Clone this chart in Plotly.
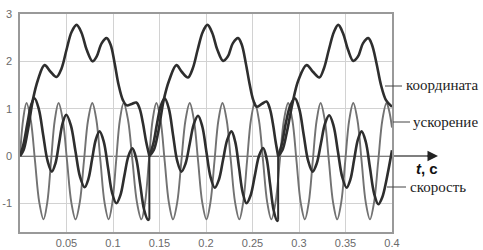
import plotly.graph_objects as go

# ---------------- data ----------------
x_ticks = [0.05, 0.1, 0.15, 0.2, 0.25, 0.3, 0.35, 0.4]
x_tick_text = ["0.05", "0.1", "0.15", "0.2", "0.25", "0.3", "0.35", "0.4"]
y_ticks = [-1, 0, 1, 2, 3]
y_tick_text = ["-1", "0", "1", "2", "3"]

# ускорение (acceleration)
acc_t = [0, 0.00345, 0.0070,
         0.01157, 0.01615, 0.02073, 0.02530,
         0.02934, 0.03338, 0.03742, 0.04145,
         0.04603, 0.05060, 0.05518, 0.05976,
         0.06428, 0.06875, 0.07322, 0.07774,
         0.08215, 0.08651, 0.09087, 0.09529,
         0.09933, 0.10336, 0.10740, 0.11144,
         0.11618, 0.12097, 0.12576, 0.13050,
         0.13453, 0.13857, 0.14261, 0.14665,
         0.15112, 0.15558, 0.16005, 0.16452,
         0.16904, 0.17351, 0.17798, 0.18250,
         0.18702, 0.19149, 0.19596, 0.20048,
         0.20479, 0.20910, 0.21340, 0.21771,
         0.22223, 0.22675, 0.23128, 0.23580,
         0.24000, 0.24414, 0.24829, 0.25249,
         0.25690, 0.26137, 0.26584, 0.27025,
         0.27477, 0.27930, 0.28382, 0.28834,
         0.29286, 0.29733, 0.30180, 0.30632,
         0.31052, 0.31477, 0.31903, 0.32323,
         0.32770, 0.33216, 0.33663, 0.34110,
         0.34541, 0.34971, 0.35402, 0.35833,
         0.36285, 0.36732, 0.37179, 0.37631,
         0.38072, 0.38519, 0.38966, 0.39407,
         0.39698, 0.40000]
acc_v = [0, 0.78, 1.12,
         0.76, -0.11, -0.98, -1.34,
         -0.98, -0.11, 0.76, 1.12,
         0.76, -0.11, -0.98, -1.34,
         -0.98, -0.11, 0.76, 1.12,
         0.76, -0.11, -0.98, -1.34,
         -0.98, -0.11, 0.76, 1.12,
         0.76, -0.11, -0.98, -1.34,
         -0.98, -0.11, 0.76, 1.12,
         0.76, -0.11, -0.98, -1.34,
         -0.98, -0.11, 0.76, 1.12,
         0.76, -0.11, -0.98, -1.34,
         -0.98, -0.11, 0.76, 1.12,
         0.76, -0.11, -0.98, -1.34,
         -0.98, -0.11, 0.76, 1.12,
         0.76, -0.11, -0.98, -1.34,
         -0.98, -0.11, 0.76, 1.12,
         0.76, -0.11, -0.98, -1.34,
         -0.98, -0.11, 0.76, 1.12,
         0.76, -0.11, -0.98, -1.34,
         -0.98, -0.11, 0.76, 1.12,
         0.76, -0.11, -0.98, -1.34,
         -0.98, -0.11, 0.76, 1.12,
         0.95, 0.6]

# скорость (velocity), three cycles
vel_t1 = [0, 0.00377, 0.00808, 0.01184, 0.01561, 0.02024, 0.02493, 0.02961, 0.03424,
          0.03812, 0.04199, 0.04587, 0.04974, 0.05470, 0.05960, 0.06449, 0.06945,
          0.07348, 0.07752, 0.08156, 0.08560, 0.09012, 0.09459, 0.09906, 0.10358,
          0.10789, 0.11219, 0.11650, 0.12081, 0.12500, 0.12920, 0.13340, 0.13760, 0.13911]
vel_v1 = [0, 0.25, 0.7, 1.07, 1.22, 0.99, 0.445, -0.10, -0.33,
          -0.155, 0.27, 0.695, 0.87, 0.647, 0.105, -0.437, -0.66,
          -0.488, -0.07, 0.348, 0.52, 0.298, -0.24, -0.778, -1.0,
          -0.831, -0.42, -0.009, 0.16, -0.06, -0.595, -1.13, -1.35, -1.33]
vel_t2 = [0.13911, 0.14320, 0.14751, 0.15149, 0.15558, 0.16011, 0.16457, 0.16904, 0.17356,
          0.17803, 0.18250, 0.18697, 0.19144, 0.19596, 0.20043, 0.20490, 0.20942,
          0.21394, 0.21841, 0.22288, 0.22740, 0.23144, 0.23548, 0.23951, 0.24355,
          0.24802, 0.25249, 0.25696, 0.26142, 0.26519, 0.26896, 0.27273, 0.27650, 0.27757]
vel_v2 = [0, 0.25, 0.7, 1.07, 1.22, 0.994, 0.445, -0.104, -0.33,
          -0.158, 0.26, 0.678, 0.85, 0.628, 0.09, -0.448, -0.67,
          -0.496, -0.075, 0.346, 0.52, 0.298, -0.24, -0.778, -1.0,
          -0.829, -0.415, -0.001, 0.17, -0.055, -0.6, -1.145, -1.37, -1.35]
vel_t3 = [0.27757, 0.28156, 0.28587, 0.29071, 0.29555, 0.30029, 0.30508, 0.30987, 0.31461,
          0.31908, 0.32355, 0.32802, 0.33249, 0.33717, 0.34185, 0.34653, 0.35122,
          0.35526, 0.35930, 0.36333, 0.36737, 0.37184, 0.37631, 0.38078, 0.38524,
          0.38955, 0.39407, 0.40000]
vel_v3 = [0, 0.25, 0.7, 1.07, 1.22, 0.994, 0.445, -0.104, -0.33,
          -0.156, 0.265, 0.686, 0.86, 0.637, 0.095, -0.447, -0.67,
          -0.496, -0.075, 0.346, 0.52, 0.295, -0.25, -0.795, -1.02,
          -0.87, -0.5, 0.12]

# координата (coordinate), three cycles
crd_t1 = [0, 0.00377, 0.00808, 0.01378, 0.01917, 0.02638, 0.03284, 0.03930, 0.04468, 0.05007,
          0.05545, 0.06083, 0.06622, 0.07160, 0.07806, 0.08237, 0.08775, 0.09313, 0.09744,
          0.10175, 0.10605, 0.11068, 0.11467, 0.12005, 0.12511, 0.12867, 0.13222, 0.13566, 0.13911]
crd_v1 = [0, 0.12, 0.5, 1.18, 1.6, 1.92, 1.78, 1.67, 1.85, 2.25,
          2.62, 2.77, 2.6, 2.25, 2.0, 2.1, 2.38, 2.49, 2.35,
          1.96, 1.5, 1.18, 1.07, 1.1, 1.13, 1.0, 0.69, 0.3, 0]
crd_t2 = [0.13911, 0.14374, 0.14858, 0.15451, 0.16043, 0.16818, 0.17389, 0.18067, 0.18573, 0.19111,
          0.19650, 0.20156, 0.20673, 0.21211, 0.21836, 0.22341, 0.22880, 0.23451, 0.23849,
          0.24280, 0.24710, 0.25087, 0.25431, 0.26002, 0.26508, 0.26864, 0.27187, 0.27488, 0.27757]
crd_v2 = [0, 0.12, 0.5, 1.18, 1.6, 1.92, 1.78, 1.66, 1.85, 2.25,
          2.62, 2.77, 2.6, 2.25, 2.01, 2.1, 2.38, 2.49, 2.35,
          1.96, 1.5, 1.18, 1.04, 1.1, 1.15, 1.0, 0.69, 0.3, 0]
crd_t3 = [0.27757, 0.28210, 0.28694, 0.29286, 0.29932, 0.30815, 0.31493, 0.32193, 0.32678, 0.33216,
          0.33755, 0.34218, 0.34724, 0.35262, 0.35833, 0.36339, 0.36877, 0.37448, 0.37846,
          0.38331, 0.38815, 0.39354, 0.40000]
crd_v3 = [0, 0.12, 0.5, 1.1, 1.6, 1.92, 1.78, 1.66, 1.85, 2.25,
          2.62, 2.77, 2.6, 2.25, 2.01, 2.1, 2.38, 2.49, 2.35,
          1.96, 1.5, 1.18, 1.04]

# ---------------- helpers ----------------
def join(*segs):
    xs, ys = [], []
    for i, (sx, sy) in enumerate(segs):
        if i:
            xs.append(None)
            ys.append(None)
        xs += sx
        ys += sy
    return xs, ys

vel_x, vel_y = join((vel_t1, vel_v1), (vel_t2, vel_v2), (vel_t3, vel_v3))
crd_x, crd_y = join((crd_t1, crd_v1), (crd_t2, crd_v2), (crd_t3, crd_v3))
jump_x = [vel_t1[-1], vel_t2[0], None, vel_t2[-1], vel_t3[0]]
jump_y = [vel_v1[-1], vel_v2[0], None, vel_v2[-1], vel_v3[0]]

DARK = "#2e2e2e"
GRAY = "#727272"

fig = go.Figure()
fig.add_trace(go.Scatter(x=acc_t, y=acc_v, mode="lines",
                         line=dict(color=GRAY, width=1.9, shape="spline"),
                         hoverinfo="skip"))
fig.add_trace(go.Scatter(x=vel_x, y=vel_y, mode="lines", connectgaps=False,
                         line=dict(color=DARK, width=2.6, shape="spline"),
                         hoverinfo="skip"))
fig.add_trace(go.Scatter(x=jump_x, y=jump_y, mode="lines", connectgaps=False,
                         line=dict(color=DARK, width=2.0),
                         hoverinfo="skip"))
fig.add_trace(go.Scatter(x=crd_x, y=crd_y, mode="lines", connectgaps=False,
                         line=dict(color=DARK, width=2.6, shape="spline"),
                         hoverinfo="skip"))

Y0, Y1 = -1.606, 3.0
L, R, T, B = 20, 91, 14, 18
W, H = 483, 250
pw, ph = W - L - R, H - T - B

def px(xp):
    return (xp - L) / pw

def py(yp):
    return (H - B - yp) / ph

y_zero = (0 - Y0) / (Y1 - Y0)

shapes = [
    dict(type="line", xref="paper", yref="paper", x0=0, x1=px(432), y0=y_zero, y1=y_zero,
         line=dict(color="#555555", width=1.5), layer="between"),
    dict(type="line", xref="paper", yref="paper", x0=px(385), x1=px(402), y0=py(86), y1=py(86),
         line=dict(color="#444444", width=1)),
    dict(type="line", xref="paper", yref="paper", x0=px(393), x1=px(410), y0=py(122), y1=py(122),
         line=dict(color="#444444", width=1)),
    dict(type="line", xref="paper", yref="paper", x0=px(387), x1=px(406), y0=py(187), y1=py(187),
         line=dict(color="#444444", width=1)),
]

label_font = dict(family="Liberation Serif, Times New Roman, serif", size=15, color="#222222")
annotations = [
    dict(xref="paper", yref="paper", x=px(438), y=y_zero, ax=-12, ay=0, text="",
         showarrow=True, arrowhead=2, arrowsize=1.4, arrowwidth=1.5, arrowcolor="#222222"),
    dict(xref="paper", yref="paper", x=px(404), y=py(85), text="координата",
         showarrow=False, xanchor="left", yanchor="middle", font=label_font),
    dict(xref="paper", yref="paper", x=px(411), y=py(122), text="ускорение",
         showarrow=False, xanchor="left", yanchor="middle", font=label_font),
    dict(xref="paper", yref="paper", x=px(408), y=py(187), text="скорость",
         showarrow=False, xanchor="left", yanchor="middle", font=label_font),
    dict(xref="paper", yref="paper", x=px(414), y=py(168), text="<b><i>t</i>, c</b>",
         showarrow=False, xanchor="left", yanchor="middle",
         font=dict(family="Liberation Sans, Arial, sans-serif", size=15, color="#111111")),
]

tick_font = dict(family="Liberation Sans, Arial, sans-serif", size=11, color="#6a6a6a")
fig.update_layout(
    width=W, height=H,
    margin=dict(l=L, r=R, t=T, b=B, pad=0, autoexpand=False),
    paper_bgcolor="white", plot_bgcolor="white",
    showlegend=False,
    shapes=shapes, annotations=annotations,
    xaxis=dict(range=[0, 0.4], tickvals=x_ticks, ticktext=x_tick_text,
               showgrid=True, gridcolor="#d2d2d2", gridwidth=1,
               showline=True, linecolor="#999999", linewidth=1.5, mirror=True,
               zeroline=False, ticks="", tickfont=tick_font, fixedrange=True,
               automargin=False),
    yaxis=dict(range=[Y0, Y1], tickvals=y_ticks, ticktext=y_tick_text,
               showgrid=True, gridcolor="#d2d2d2", gridwidth=1,
               showline=True, linecolor="#999999", linewidth=1.5, mirror=True,
               zeroline=False, ticks="", tickfont=tick_font, fixedrange=True,
               automargin=False, ticklabelstandoff=4),
)

fig.write_html("out.html", config={"displayModeBar": False},
               post_script="document.body.style.margin='0';document.body.style.padding='0';document.body.style.overflow='hidden';")
